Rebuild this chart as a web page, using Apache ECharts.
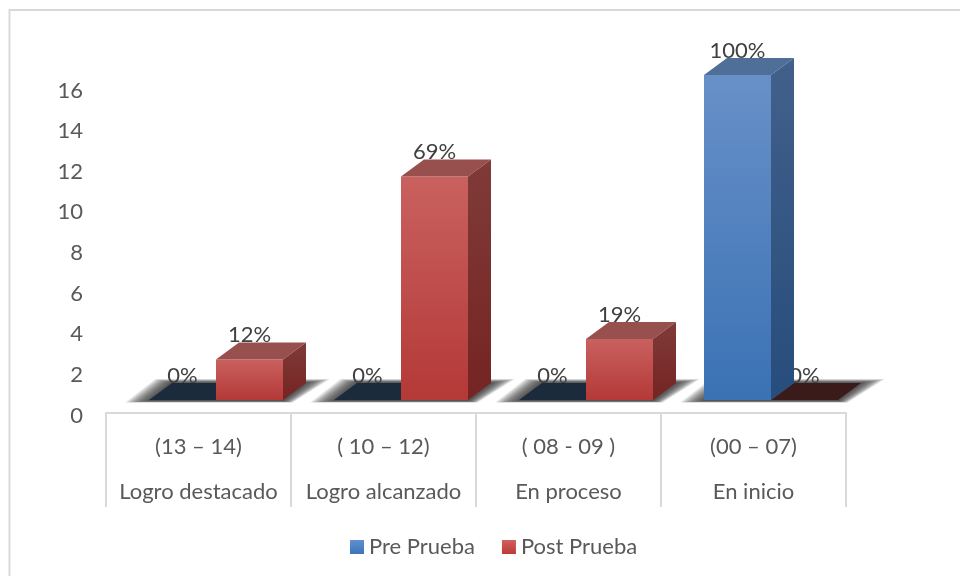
<!DOCTYPE html>
<html><head><meta charset="utf-8">
<style>html,body{margin:0;padding:0;background:#fff}#c{width:960px;height:576px}</style>
<script src="https://cdn.jsdelivr.net/npm/echarts@6/dist/echarts.min.js"></script>
</head><body><div id="c"></div>
<script>
const rangos = ['(13 – 14)', '( 10 – 12)', '( 08 - 09 )', '(00 – 07)'];
const niveles = ['Logro destacado', 'Logro alcanzado', 'En proceso', 'En inicio'];
const prePrueba = [0, 0, 0, 16];
const postPrueba = [2, 11, 3, 0];
const preEtiquetas = ['0%', '0%', '0%', '100%'];
const postEtiquetas = ['12%', '69%', '19%', '0%'];
const yTicks = [0, 2, 4, 6, 8, 10, 12, 14, 16];

const categorias = rangos.map((r, i) => r + '\n' + niveles[i]);
const FONT = 'Lato';
const lift = { x: 17.5, y: -13 };
const depth = { x: 23, y: -17 };
const barW = 67;

const palette = {
  pre: { top: '#4f6f98', frontA: '#6890c8', frontB: '#3a72b4', sideA: '#42608a', sideB: '#274d7c',
         floor: '#1c2b3c', legendA: '#6090d0', legendB: '#3b75b8' },
  post: { top: '#97504e', frontA: '#c9615f', frontB: '#b43937', sideA: '#7f3b39', sideB: '#752422',
          floor: '#3b1a1a', legendA: '#d0605e', legendB: '#be3a38' }
};
function grad(a, b) {
  return { type: 'linear', x: 0, y: 0, x2: 0, y2: 1, colorStops: [{ offset: 0, color: a }, { offset: 1, color: b }] };
}
function poly(points, fill, z2, extra) {
  return { type: 'polygon', z2: z2, shape: { points: points }, style: Object.assign({ fill: fill }, extra || {}) };
}
function makeRender(pal, side, labels) {
  return function (params, api) {
    const i = api.value(0), v = api.value(1);
    const base = api.coord([i, 0]);
    const top = api.coord([i, v]);
    const cx = base[0] + lift.x;
    const x0 = side < 0 ? cx - barW : cx;
    const x1 = x0 + barW;
    const yb = base[1] + lift.y;
    const yt = top[1] + lift.y;
    const dx = depth.x, dy = depth.y;
    const kids = [];
    if (v === 0) {
      kids.push(poly([[x0, yb], [x1, yb], [x1 + dx, yb + dy], [x0 + dx, yb + dy]], pal.floor, 2));
    } else {
      kids.push(poly([[x0, yb], [x1, yb], [x1, yt], [x0, yt]], grad(pal.frontA, pal.frontB), 6));
      kids.push(poly([[x0, yt], [x1, yt], [x1 + dx, yt + dy], [x0 + dx, yt + dy]], pal.top, 6));
      kids.push(poly([[x1, yb], [x1 + dx, yb + dy], [x1 + dx, yt + dy], [x1, yt]], grad(pal.sideA, pal.sideB), 6));
    }
    kids.push({
      type: 'text', z2: v === 0 ? 3 : 7,
      style: { x: (x0 + x1) / 2, y: yt - 24.5, text: labels[i], fill: '#404040',
               font: '22px ' + FONT, align: 'center', verticalAlign: 'middle' }
    });
    return { type: 'group', children: kids };
  };
}
function renderShadow(params, api) {
  const i = api.value(0);
  const base = api.coord([i, 0]);
  const cx = base[0] + lift.x, yb = base[1] + lift.y;
  const x0 = cx - barW, x1 = cx + barW;
  const kids = [];
  const steps = 18;
  for (let k = 0; k < steps; k++) {
    const t = 1 - k / (steps - 1);
    const spread = 24 * t;
    const up = 4 * t;
    kids.push(poly([
      [x0 - spread, yb + 1 + 1.5 * t], [x1 + spread * 0.4, yb + 1 + 1.5 * t],
      [x1 + 23 + spread, yb - 17 - up], [x0 + 23 - spread * 0.7, yb - 17 - up]
    ], 'rgba(50,50,50,0.085)', 0));
  }
  return { type: 'group', children: kids };
}

const chart = echarts.init(document.getElementById('c'), null, { renderer: 'canvas' });
chart.setOption({
  animation: false,
  backgroundColor: '#fff',
  textStyle: { fontFamily: FONT },
  graphic: [{ type: 'rect', silent: true, z: -1,
    shape: { x: 9.5, y: 10, width: 1000, height: 600 },
    style: { fill: 'none', stroke: '#d9d9d9', lineWidth: 2 } }],
  grid: { left: 106, right: 114, top: 88, height: 325, containLabel: false },
  legend: {
    data: ['Pre Prueba', 'Post Prueba'], left: 350, top: 536,
    itemWidth: 14, itemHeight: 14, itemGap: 27, icon: 'rect', padding: 0,
    textStyle: { color: '#595959', fontFamily: FONT, fontSize: 22 }
  },
  xAxis: {
    type: 'category', data: categorias,
    axisLine: { lineStyle: { color: '#d9d9d9', width: 2 } },
    axisTick: { show: true, alignWithLabel: false, length: 94, lineStyle: { color: '#d9d9d9', width: 2 } },
    axisLabel: { color: '#595959', fontFamily: FONT, fontSize: 22, lineHeight: 45, margin: 11, interval: 0 },
    splitLine: { show: false }
  },
  yAxis: {
    type: 'value', min: 0, max: 16, interval: 2,
    axisLine: { show: false }, axisTick: { show: false }, splitLine: { show: false },
    axisLabel: { color: '#595959', fontFamily: FONT, fontSize: 22, margin: 23, verticalAlign: 'top', lineHeight: 5,
      formatter: v => yTicks.includes(v) ? String(v) : '' }
  },
  series: [
    { type: 'custom', name: 'shadow', silent: true, legendHoverLink: false, clip: false,
      renderItem: renderShadow, data: categorias.map((c, i) => [i, 0]), encode: { x: 0, y: 1 } },
    { type: 'custom', name: 'Pre Prueba', clip: false, renderItem: makeRender(palette.pre, -1, preEtiquetas),
      itemStyle: { color: grad(palette.pre.legendA, palette.pre.legendB) },
      data: prePrueba.map((v, i) => [i, v]), encode: { x: 0, y: 1 } },
    { type: 'custom', name: 'Post Prueba', clip: false, renderItem: makeRender(palette.post, 1, postEtiquetas),
      itemStyle: { color: grad(palette.post.legendA, palette.post.legendB) },
      data: postPrueba.map((v, i) => [i, v]), encode: { x: 0, y: 1 } }
  ]
});
</script></body></html>
